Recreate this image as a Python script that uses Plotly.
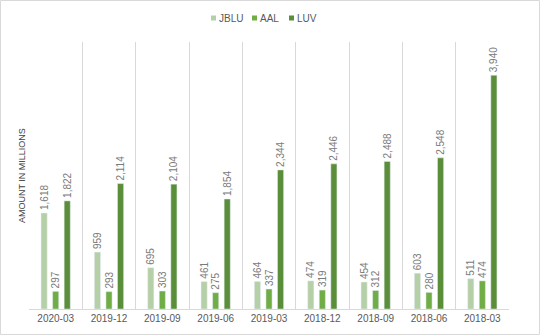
import plotly.graph_objects as go

categories = ["2020-03", "2019-12", "2019-09", "2019-06", "2019-03", "2018-12", "2018-09", "2018-06", "2018-03"]
jblu = [1618, 959, 695, 461, 464, 474, 454, 603, 511]
aal = [297, 293, 303, 275, 337, 319, 312, 280, 474]
luv = [1822, 2114, 2104, 1854, 2344, 2446, 2488, 2548, 3940]

series = [("JBLU", jblu, "#b5cfa6"), ("AAL", aal, "#70ad47"), ("LUV", luv, "#5a8e39")]

fig = go.Figure()
for name, vals, color in series:
    fig.add_trace(go.Bar(
        name=name, x=categories, y=vals, marker_color=color,
        text=[f"{v:,}" for v in vals], texttemplate="%{text}",
        textposition="outside", textangle=-90, constraintext="none",
        cliponaxis=False, showlegend=False,
        textfont=dict(family="Liberation Sans, Arial", size=10, color="#7a7a7a"),
    ))

W, H = 540, 335
L, R, T, B = 29, 31, 42, 26
pw, ph = W - L - R, H - T - B

def px(x):
    return (x - L) / pw

def py(y):
    return (H - B - y) / ph

shapes = [dict(type="rect", xref="paper", yref="paper",
               x0=px(0.5), x1=px(539.5), y0=py(334.5), y1=py(0.5),
               line=dict(color="#d9d9d9", width=1), layer="below")]
annotations = [dict(text="AMOUNT IN MILLIONS", xref="paper", yref="paper",
                    x=px(22), y=py(176), textangle=-90, showarrow=False,
                    xanchor="center", yanchor="middle",
                    font=dict(size=9, color="#404040"))]

legend_x = [211, 252, 289]
for (name, vals, color), lx in zip(series, legend_x):
    shapes.append(dict(type="rect", xref="paper", yref="paper",
                       x0=px(lx), x1=px(lx + 5), y0=py(20.5), y1=py(15.5),
                       fillcolor=color, line=dict(width=0)))
    annotations.append(dict(text=name, xref="paper", yref="paper",
                            x=px(lx + 6), y=py(18), xanchor="left", yanchor="middle",
                            showarrow=False, font=dict(size=10, color="#595959")))

fig.update_layout(
    width=W, height=H,
    margin=dict(l=L, r=R, t=T, b=B),
    paper_bgcolor="white", plot_bgcolor="white",
    barmode="group", bargap=0.35, bargroupgap=0.47,
    font=dict(family="Liberation Sans, Arial", color="#595959"),
    showlegend=False,
    xaxis=dict(type="category", tickson="boundaries", showgrid=True, gridcolor="#d9d9d9", gridwidth=1,
               showline=True, linecolor="#d9d9d9", ticks="", ticklen=0,
               tickfont=dict(size=10, color="#595959"), fixedrange=True),
    yaxis=dict(range=[0, 4500], showgrid=False, showticklabels=False, zeroline=False,
               showline=False, title=None, fixedrange=True),
    shapes=shapes,
    annotations=annotations,
)

fig.write_html("out.html")
